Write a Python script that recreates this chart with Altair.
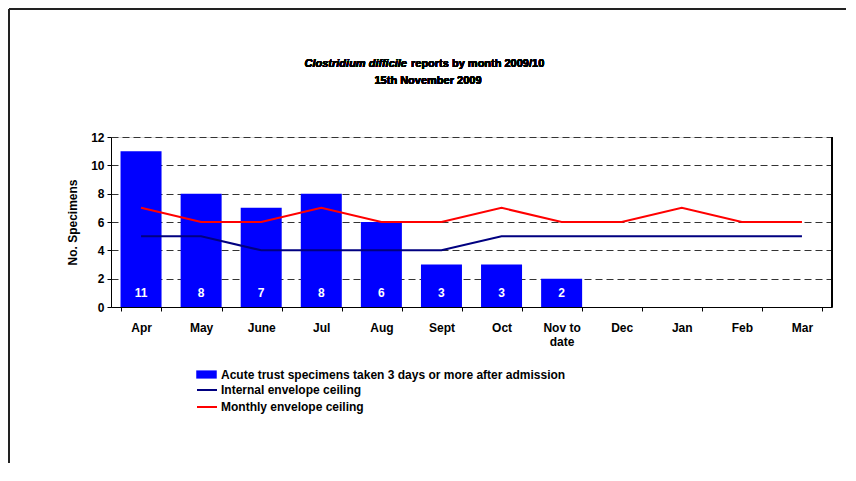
import altair as alt
import pandas as pd

months = ["Apr", "May", "June", "Jul", "Aug", "Sept", "Oct", "Nov to date",
          "Dec", "Jan", "Feb", "Mar"]
specimens = [11, 8, 7, 8, 6, 3, 3, 2, None, None, None, None]
internal_ceiling = [5, 5, 4, 4, 4, 4, 5, 5, 5, 5, 5, 5]
monthly_ceiling = [7, 6, 6, 7, 6, 6, 7, 6, 6, 7, 6, 6]
y_ticks = [0, 2, 4, 6, 8, 10, 12]

bar_name = "Acute trust specimens taken 3 days or more after admission"
line_names = ["Internal envelope ceiling", "Monthly envelope ceiling"]

FONT = "Liberation Sans"
W, H = 721, 170

bars_df = pd.DataFrame({"month": months[:8], "value": specimens[:8], "series": bar_name})
lines_df = pd.DataFrame({
    "month": months * 2,
    "value": internal_ceiling + monthly_ceiling,
    "series": [line_names[0]] * 12 + [line_names[1]] * 12,
})

x_enc = alt.X("month:N", sort=months, title=None,
              scale=alt.Scale(domain=months, paddingInner=0.32, paddingOuter=0.16),
              axis=alt.Axis(labelAngle=0, labelFont=FONT, labelFontSize=12, labelFontWeight="bold",
                            labelColor="black", labelPadding=11, tickSize=4, tickBand="extent",
                            domainColor="black", tickColor="black", grid=False,
                            labelExpr="datum.value == 'Nov to date' ? ['Nov to', 'date'] : datum.value"))
y_scale = alt.Scale(domain=[0, 12], nice=False)
y_axis = alt.Axis(values=y_ticks, labelFont=FONT, labelFontSize=12, labelFontWeight="bold",
                  labelColor="black", tickSize=4, labelPadding=3, domainColor="black",
                  tickColor="black", grid=True, gridDash=[7, 4], gridColor="#333333",
                  labelOverlap=False,
                  title="No. Specimens", titleFont=FONT, titleFontSize=12, titleFontWeight="bold",
                  titleColor="black", titlePadding=11)

bars = alt.Chart(bars_df).mark_bar(size=41).encode(
    x=x_enc,
    y=alt.Y("value:Q", scale=y_scale, axis=y_axis),
    fill=alt.Fill("series:N", scale=alt.Scale(domain=[bar_name], range=["#0000FF"]),
                  legend=alt.Legend(title=None, orient="none", legendX=85, legendY=227,
                                    symbolType="M-1,-0.4H1V0.4H-1Z", symbolSize=420,
                                    symbolStrokeWidth=0, labelFont=FONT, labelFontSize=12,
                                    labelFontWeight="bold", labelColor="black", labelLimit=600,
                                    labelOffset=4, padding=0)),
)

labels = alt.Chart(bars_df).transform_calculate(label_pos="1").mark_text(
    color="white", font=FONT, fontSize=12, fontWeight="bold", baseline="middle").encode(
    x=alt.X("month:N", sort=months),
    y=alt.Y("label_pos:Q", scale=y_scale, axis=y_axis),
    text=alt.Text("value:Q"),
)

lines = alt.Chart(lines_df).mark_line(strokeWidth=2).encode(
    x=alt.X("month:N", sort=months),
    y=alt.Y("value:Q", scale=y_scale, axis=y_axis),
    stroke=alt.Stroke("series:N", scale=alt.Scale(domain=line_names, range=["#000080", "#FF0000"]),
                      legend=alt.Legend(title=None, orient="none", legendX=85, legendY=242,
                                        symbolType="stroke", symbolSize=400, symbolStrokeWidth=2,
                                        labelFont=FONT, labelFontSize=12, labelFontWeight="bold",
                                        labelColor="black", labelLimit=600, labelOffset=3,
                                        rowPadding=-14, padding=0)),
)

right_border = alt.Chart(bars_df).mark_rule(color="black", strokeWidth=1).encode(
    x=alt.value(W), y=alt.value(0), y2=alt.value(H))

frame_top = alt.Chart(bars_df).mark_rule(color="#222222", strokeWidth=2).encode(
    x=alt.value(-102), x2=alt.value(W + 30), y=alt.value(-128))
frame_left = alt.Chart(bars_df).mark_rule(color="#222222", strokeWidth=2).encode(
    x=alt.value(-102), y=alt.value(-128), y2=alt.value(H + 200))

title_a = alt.Chart(bars_df).mark_text(font=FONT, fontSize=11, fontWeight="bold", fontStyle="italic",
                                       align="right", baseline="middle").encode(
    x=alt.value(296), y=alt.value(-73), text=alt.value("Clostridium difficile"))
title_b = alt.Chart(bars_df).mark_text(font=FONT, fontSize=11, fontWeight="bold",
                                       align="left", baseline="middle").encode(
    x=alt.value(300), y=alt.value(-73), text=alt.value("reports by month 2009/10"))
subtitle = alt.Chart(bars_df).mark_text(font=FONT, fontSize=11, fontWeight="bold",
                                        align="center", baseline="middle").encode(
    x=alt.value(317), y=alt.value(-56), text=alt.value("15th November 2009"))

chart = alt.layer(bars, labels, lines, right_border, frame_top, frame_left,
                  title_a, title_b, subtitle).resolve_scale(fill="independent", stroke="independent").properties(
    width=W, height=H,
    autosize=alt.AutoSizeParams(type="none"),
    padding={"left": 103, "top": 129, "right": 14, "bottom": 156},
).configure_view(stroke=None).configure(background="white")

chart.save("out.html", embed_options={"renderer": "svg", "actions": False})
